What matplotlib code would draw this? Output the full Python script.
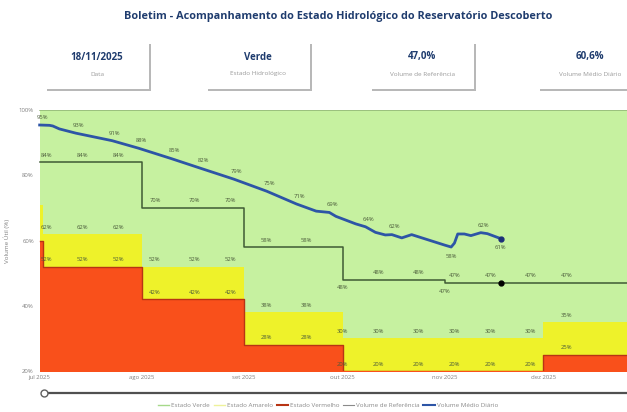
import matplotlib.pyplot as plt
from matplotlib.lines import Line2D
from matplotlib.patches import Rectangle
import pandas as pd

plt.rcParams['font.family'] = ['Open Sans', 'DejaVu Sans']

# curvas de estado (degraus mensais, valor valido a partir da data)
faixa_datas = pd.to_datetime(['2025-07-01', '2025-07-02', '2025-08-01', '2025-09-01',
                              '2025-10-01', '2025-11-01', '2025-12-01', '2026-01-01'])
verde = [100, 100, 100, 100, 100, 100, 100, 100]
amarelo = [71, 62, 52, 38, 30, 30, 35, 35]
vermelho = [60, 52, 42, 28, 20, 20, 25, 25]
referencia = [84, 84, 70, 58, 48, 47, 47, 47]

# volume medio diario
volume_datas = pd.to_datetime([
    '2025-07-01', '2025-07-04', '2025-07-05', '2025-07-07', '2025-07-12', '2025-07-23',
    '2025-07-31', '2025-08-10', '2025-08-19', '2025-08-29', '2025-09-08', '2025-09-17',
    '2025-09-23', '2025-09-27', '2025-09-29', '2025-10-05', '2025-10-08', '2025-10-11',
    '2025-10-14', '2025-10-16', '2025-10-19', '2025-10-22', '2025-10-27', '2025-11-01',
    '2025-11-03', '2025-11-04', '2025-11-05', '2025-11-07', '2025-11-09', '2025-11-12',
    '2025-11-14', '2025-11-18'])
volume = [95.4, 95.3, 95.1, 94.2, 92.9, 90.6,
          88.3, 85.1, 82.1, 78.8, 75.1, 71.2,
          69.0, 68.6, 67.4, 65.1, 64.2, 62.5,
          61.7, 61.8, 60.8, 61.8, 60.2, 58.6,
          58.0, 59.2, 62.0, 62.0, 61.5, 62.4,
          62.1, 60.6]

# onde aparecem os rotulos de dados
rotulos_faixa = pd.to_datetime(['2025-07-03', '2025-07-14', '2025-07-25', '2025-08-05',
                                '2025-08-17', '2025-08-28', '2025-09-08', '2025-09-20',
                                '2025-10-01', '2025-10-12', '2025-10-24', '2025-11-04',
                                '2025-11-15', '2025-11-27', '2025-12-08'])
rotulos_ref_abaixo = pd.to_datetime(['2025-10-01', '2025-11-01'])
rotulos_volume = pd.to_datetime(['2025-07-01', '2025-07-12', '2025-07-23', '2025-07-31',
                                 '2025-08-10', '2025-08-19', '2025-08-29', '2025-09-08',
                                 '2025-09-17', '2025-09-27', '2025-10-08', '2025-10-16',
                                 '2025-11-12'])
rotulos_volume_abaixo = pd.to_datetime(['2025-11-03', '2025-11-18'])

meses = pd.to_datetime(['2025-07-01', '2025-08-01', '2025-09-01', '2025-10-01',
                        '2025-11-01', '2025-12-01'])
meses_txt = ['jul 2025', 'ago 2025', 'set 2025', 'out 2025', 'nov 2025', 'dez 2025']

cards = [('18/11/2025', 'Data'), ('Verde', 'Estado Hidrológico'),
         ('47,0%', 'Volume de Referência'), ('60,6%', 'Volume Médio Diário')]

COR_VERDE = '#c6f1a0'
COR_AMARELO = '#eef22a'
COR_VERMELHO = '#f9501b'
COR_REF = '#3f5a34'
COR_VOL = '#2d55a6'
COR_TITULO = '#1f3c6e'
COR_ROTULO = '#4a5a3a'

W, H = 627, 412
fig = plt.figure(figsize=(W / 100, H / 100), dpi=100)


def fx(x):
    return x / W


def fy(y):
    return 1 - y / H


def degrau(datas, valores, d):
    v = valores[0]
    for di, vi in zip(datas, valores):
        if di <= d:
            v = vi
    return v


# titulo e cartoes
fig.text(fx(338), fy(17), 'Boletim - Acompanhamento do Estado Hidrológico do Reservatório Descoberto',
         ha='center', va='center', fontsize=7.8, fontweight='bold', color=COR_TITULO)
for cx, (valor, legenda) in zip([97, 258, 422, 590], cards):
    x0, x1, y0, y1 = cx - 52, cx + 52, 42, 89
    fig.patches.append(Rectangle((fx(x0 + 2), fy(y1 + 2)), fx(x1 - x0), (y1 - y0) / H,
                                 transform=fig.transFigure, facecolor='#b8b8b8',
                                 edgecolor='none', zorder=1))
    fig.patches.append(Rectangle((fx(x0), fy(y1)), fx(x1 - x0), (y1 - y0) / H,
                                 transform=fig.transFigure, facecolor='white',
                                 edgecolor='none', zorder=2))
    fig.text(fx(cx), fy(57), valor, ha='center', va='center', fontsize=7,
             fontweight='bold', color=COR_TITULO, zorder=3)
    fig.text(fx(cx), fy(74), legenda, ha='center', va='center', fontsize=4.6,
             color='#9a9a9a', zorder=3)

# grafico
ax = fig.add_axes([fx(38), fy(371), fx(627 - 38), (371 - 110) / H])
ax.fill_between(faixa_datas, 0, verde, step='post', color=COR_VERDE, lw=0)
ax.fill_between(faixa_datas, 0, amarelo, step='post', color=COR_AMARELO, lw=0)
ax.fill_between(faixa_datas, 0, vermelho, step='post', color=COR_VERMELHO, lw=0)
ax.step(faixa_datas, verde, where='post', color='#93b878', lw=1.2)
ax.step(faixa_datas, vermelho, where='post', color='#b83414', lw=1.0)
ax.step(faixa_datas, referencia, where='post', color=COR_REF, lw=1.1)
ax.plot(volume_datas, volume, color=COR_VOL, lw=2.0, solid_joinstyle='round')
ax.plot(volume_datas[-1:], volume[-1:], 'o', color='#1c2f78', ms=3.5)
ax.plot(volume_datas[-1:], [degrau(faixa_datas, referencia, volume_datas[-1])], 'o',
        color='black', ms=3.5)

kw = dict(textcoords='offset points', ha='center', va='center', fontsize=4.2,
          color=COR_ROTULO, zorder=5)
for d in rotulos_faixa:
    for serie in (amarelo, vermelho):
        v = degrau(faixa_datas, serie, d)
        ax.annotate(f'{v:.0f}%', (d, v), xytext=(0, 5), **kw)
    if d not in rotulos_ref_abaixo:
        v = degrau(faixa_datas, referencia, d)
        ax.annotate(f'{v:.0f}%', (d, v), xytext=(0, 5), **kw)
for d in rotulos_ref_abaixo:
    v = degrau(faixa_datas, referencia, d)
    ax.annotate(f'{v:.0f}%', (d, v), xytext=(0, -6), **kw)
vol = dict(zip(volume_datas, volume))
for d in rotulos_volume:
    ax.annotate(f'{vol[d]:.0f}%', (d, vol[d]), xytext=(2, 5.5), **kw)
for d in rotulos_volume_abaixo:
    ax.annotate(f'{vol[d]:.0f}%', (d, vol[d]), xytext=(0, -6.5), **kw)

ax.set_xlim(pd.Timestamp('2025-06-30 12:00'), pd.Timestamp('2025-12-26 10:00'))
ax.set_ylim(20, 100)
ax.set_yticks([20, 40, 60, 80, 100])
ax.set_yticklabels(['20%', '40%', '60%', '80%', '100%'])
ax.set_xticks(meses)
ax.set_xticklabels(meses_txt)
ax.tick_params(length=0, labelsize=4.3, labelcolor='#808080', pad=3)
ax.set_ylabel('Volume Útil (%)', fontsize=4.5, color='#808080', labelpad=6)
for s in ax.spines.values():
    s.set_visible(False)

# barra de rolagem abaixo do eixo
fig.add_artist(Line2D([fx(44), fx(627)], [fy(393), fy(393)], color='#505050', lw=1.6))
fig.add_artist(Line2D([fx(44)], [fy(393)], marker='o', ms=5, mfc='white', mec='#606060',
                      mew=1.0, lw=0))

handles = [Line2D([], [], color='#a6d98a', lw=1),
           Line2D([], [], color='#eef29a', lw=1),
           Line2D([], [], color='#b83414', lw=1.5),
           Line2D([], [], color='#8a8a8a', lw=0.8),
           Line2D([], [], color=COR_VOL, lw=1.5)]
fig.legend(handles, ['Estado Verde', 'Estado Amarelo', 'Estado Vermelho',
                     'Volume de Referência', 'Volume Médio Diário'],
           loc='center', bbox_to_anchor=(fx(328), fy(405)), ncol=5, frameon=False,
           fontsize=4.5, labelcolor='#8a8a8a', handlelength=1.8, handletextpad=0.3,
           columnspacing=0.6)

fig.savefig('out.png', dpi=100)
